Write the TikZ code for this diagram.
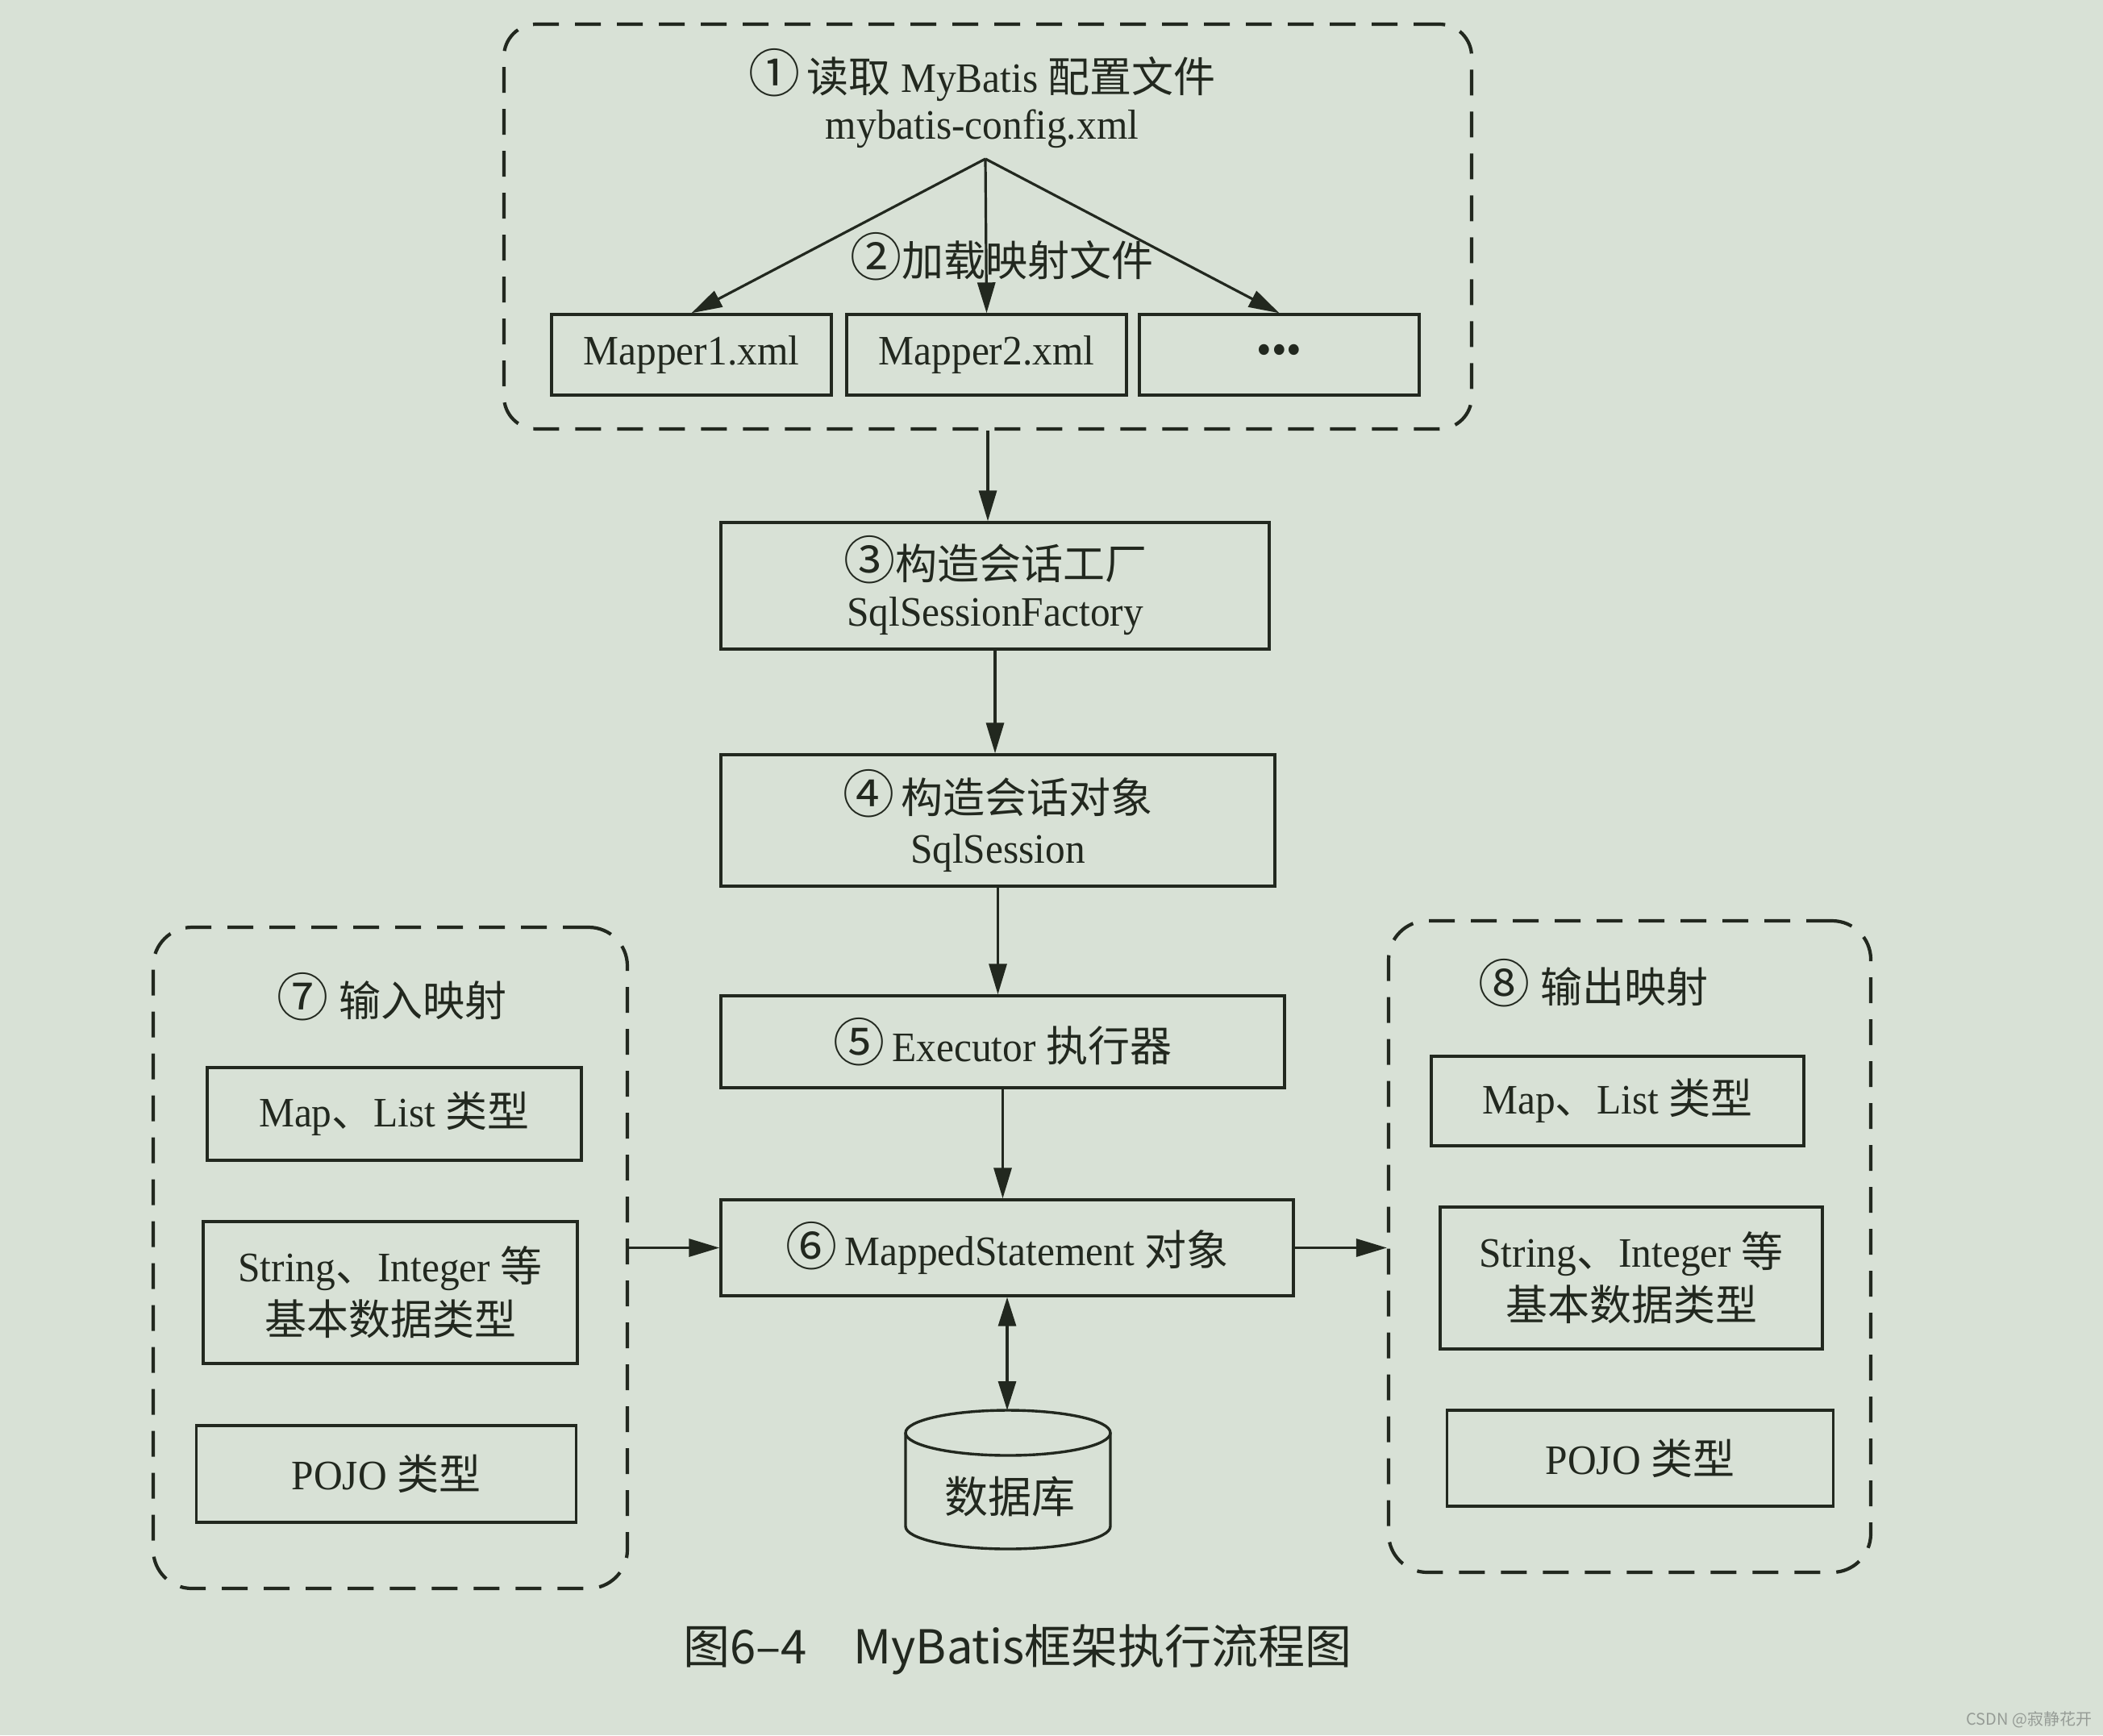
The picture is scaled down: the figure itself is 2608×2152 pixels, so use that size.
\documentclass[tikz,border=0pt]{standalone}
\usepackage{fontspec}
\setmainfont{Liberation Serif}[FakeStretch=0.95]
\newfontfamily\cjk{Noto Sans CJK SC}
\usetikzlibrary{arrows.meta}
\definecolor{paper}{RGB}{216,225,214}
\definecolor{inkc}{RGB}{34,40,31}
\definecolor{wmark}{RGB}{150,156,150}
\newcommand\zh[1]{{\fontsize{13}{14}\cjk #1}}
\newcommand\cn[1]{{\fontsize{16}{14}\cjk #1}}
\newcommand\latf{\fontsize{13}{14.5}\selectfont}
\tikzset{
  boxline/.style={draw=inkc, line width=0.85pt},
  box/.style={boxline, rectangle, inner sep=0pt, align=center, text=inkc, font=\latf},
  dbox/.style={draw=inkc, line width=1.05pt, dash pattern=on 8pt off 5pt, rounded corners=10pt, inner sep=0pt},
  lbl/.style={inner sep=0pt, align=center, text=inkc, font=\latf},
  arr/.style={draw=inkc, line width=0.8pt, -{Triangle[length=9.5pt,width=5.5pt]}},
  darr/.style={draw=inkc, line width=0.8pt, {Triangle[length=9pt,width=5.5pt]}-{Triangle[length=9pt,width=5.5pt]}}
}
\begin{document}
\begin{tikzpicture}[x=0.25pt,y=-0.25pt]
\useasboundingbox (0,0) rectangle (2608,2152);
\fill[paper] (0,0) rectangle (2608,2152);

% top group
\node[dbox, minimum width=300pt, minimum height=125.5pt] (top) at (1225,281) {};
\node[lbl] (cfg) at (1218,122) {\cn{①}\,\zh{读取} MyBatis \zh{配置文件}\\mybatis-config.xml};
\coordinate (apex) at (1222,197);
\node[box, minimum width=86.75pt, minimum height=25pt] (m1) at (857.5,440) {Mapper1.xml};
\node[box, minimum width=86.75pt, minimum height=25pt] (m2) at (1223.5,440) {Mapper2.xml};
\node[box, minimum width=86.75pt, minimum height=25pt] (m3) at (1586.5,440) {\fontsize{14}{14}\selectfont\raisebox{-0.5pt}{•••}};
\node[lbl] (load) at (1242,318) {\cn{②}\zh{加载映射文件}};
\draw[arr] (apex) -- (m1.north);
\draw[arr] (apex) -- (m2.north);
\draw[arr] (apex) -- (m3.north);

% main column
\node[box, minimum width=170pt, minimum height=39.25pt] (b3) at (1234,726.5) {\cn{③}\zh{构造会话工厂}\\SqlSessionFactory};
\node[box, minimum width=171.75pt, minimum height=40.75pt] (b4) at (1237.5,1017.5) {\cn{④}\,\zh{构造会话对象}\\[1pt]SqlSession};
\node[box, minimum width=174.75pt, minimum height=28.5pt] (b5) at (1243.5,1292) {\cn{⑤}\,Executor \zh{执行器}};
\node[box, minimum width=177.5pt, minimum height=29.75pt] (b6) at (1249,1547.5) {\cn{⑥}\,MappedStatement \zh{对象}};

\draw[arr] (top.south) -- (top.south |- b3.north);
\draw[arr] (b3.south) -- (b3.south |- b4.north);
\draw[arr] (b4.south) -- (b4.south |- b5.north);
\draw[arr] (b5.south) -- (b5.south |- b6.north);

% database
\coordinate (dbtop) at (1250,1749);
\draw[boxline] (1123,1777) -- (1123,1893) arc[start angle=180,end angle=360,x radius=31.75pt,y radius=7pt] -- (1377,1777);
\draw[boxline] (1250,1777) ellipse[x radius=31.75pt,y radius=7pt];
\node[lbl] (db) at (1252,1856) {{\fontsize{13.5}{14}\cjk 数据库}};
\draw[darr] (b6.south) -- (b6.south |- dbtop);

% input mapping
\node[dbox, rounded corners=12pt, minimum width=147pt, minimum height=205pt] (inmap) at (484,1560) {};
\node[lbl] (inlab) at (486,1236) {\cn{⑦} \zh{输入映射}};
\node[box, minimum width=116pt, minimum height=28.75pt] (l1) at (489,1381.5) {Map\zh{、}List \zh{类型}};
\node[box, minimum width=116pt, minimum height=44pt] (l2) at (484,1603) {String\zh{、}Integer \zh{等}\\[2pt]\zh{基本数据类型}};
\node[box, minimum width=117.75pt, minimum height=30pt] (l3) at (479,1828) {POJO \zh{类型}};

% output mapping
\node[dbox, rounded corners=12pt, minimum width=149.5pt, minimum height=202pt] (outmap) at (2021,1546) {};
\node[lbl] (outlab) at (1976,1219) {\cn{⑧} \zh{输出映射}};
\node[box, minimum width=115.5pt, minimum height=27.75pt] (r1) at (2006,1365.5) {Map\zh{、}List \zh{类型}};
\node[box, minimum width=118.5pt, minimum height=44pt] (r2) at (2023,1585) {String\zh{、}Integer \zh{等}\\[2pt]\zh{基本数据类型}};
\node[box, minimum width=119.75pt, minimum height=29.75pt] (r3) at (2034,1808.5) {POJO \zh{类型}};

\draw[arr] (inmap.east |- b6.west) -- (b6.west);
\draw[arr] (b6.east) -- (b6.east -| outmap.west);

% caption and watermark
\node[text=inkc, inner sep=0pt] (cap) at (1262,2046) {\fontsize{14.5}{16}\cjk 图6–4\quad MyBatis框架执行流程图};
\node[text=wmark, inner sep=0pt, anchor=east] (wm) at (2595,2133) {\fontsize{5}{6}\cjk CSDN @寂静花开};
\end{tikzpicture}
\end{document}
